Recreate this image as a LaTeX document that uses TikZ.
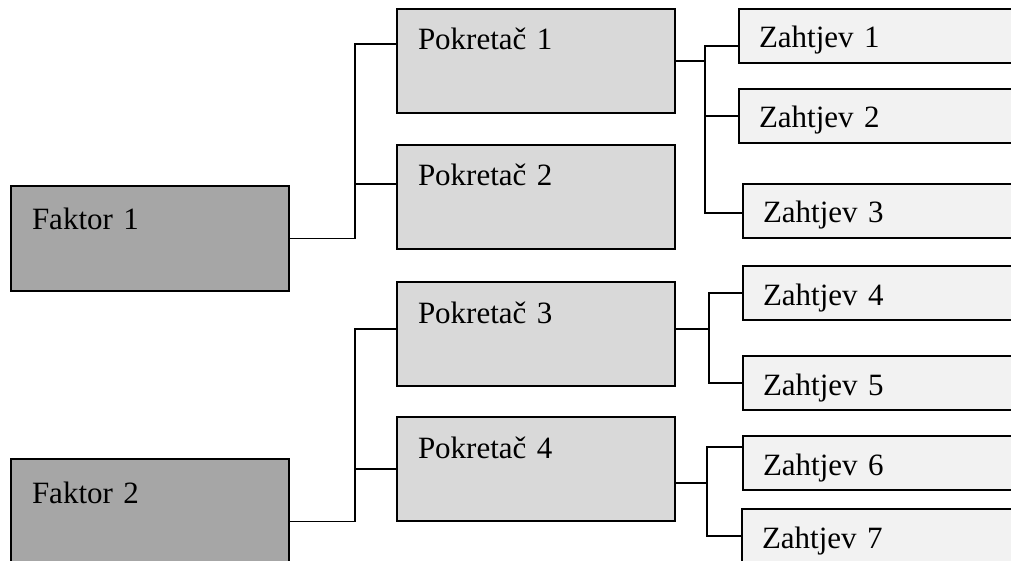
\documentclass[tikz,border=0pt]{standalone}
\usepackage{fontspec}
\setmainfont{Liberation Serif}
\definecolor{FaktorGray}{HTML}{A6A6A6}
\definecolor{PokretacGray}{HTML}{D9D9D9}
\definecolor{ZahtjevGray}{HTML}{F2F2F2}
\tikzset{
  faktor/.style={draw=black, fill=FaktorGray, line width=2pt, anchor=north west, outer sep=0pt, align=left, inner xsep=21pt, inner ysep=0pt, text width=236pt, text height=44pt, text depth=61pt, font=\fontsize{31}{37}\selectfont},
  pokretac/.style={draw=black, fill=PokretacGray, line width=2pt, anchor=north west, outer sep=0pt, align=left, inner xsep=21pt, inner ysep=0pt, text width=236pt, text height=41pt, text depth=63pt, font=\fontsize{31}{37}\selectfont},
  zahtjev/.style={draw=black, fill=ZahtjevGray, line width=2pt, anchor=north west, outer sep=0pt, align=left, inner xsep=20pt, inner ysep=0pt, text width=260pt, text height=39pt, text depth=15pt, font=\fontsize{31}{37}\selectfont},
  wire/.style={line width=1.5pt, black}
}

\begin{document}
\begin{tikzpicture}[x=1pt, y=-1pt]
    \useasboundingbox (0,0) rectangle (1011,561);
    \clip (0,0) rectangle (1011,561);

    % factors
    \node[faktor] (f1) at (11,186) {Faktor 1};
    \node[faktor] (f2) at (11,459) {Faktor 2};

    % drivers
    \node[pokretac] (p1) at (397,9) {Pokretač 1};
    \node[pokretac] (p2) at (397,145) {Pokretač 2};
    \node[pokretac] (p3) at (397,282) {Pokretač 3};
    \node[pokretac] (p4) at (397,417) {Pokretač 4};

    % requirements
    \node[zahtjev] (z1) at (739,9) {Zahtjev 1};
    \node[zahtjev] (z2) at (739,89) {Zahtjev 2};
    \node[zahtjev] (z3) at (743,184) {Zahtjev 3};
    \node[zahtjev] (z4) at (743,266) {Zahtjev 4};
    \node[zahtjev] (z5) at (743,356) {Zahtjev 5};
    \node[zahtjev] (z6) at (743,436) {Zahtjev 6};
    \node[zahtjev] (z7) at (742,509) {Zahtjev 7};

    % attachment points
    \coordinate (f2out) at ([yshift=-10pt]f2.east);
    \coordinate (p1in) at ([yshift=17pt]p1.west);
    \coordinate (p2in) at ([yshift=13pt]p2.west);
    \coordinate (p3in) at ([yshift=5pt]p3.west);
    \coordinate (p3out) at ([yshift=5pt]p3.east);
    \coordinate (p4out) at ([yshift=-14pt]p4.east);
    \coordinate (z1in) at ([yshift=-10pt]z1.west);
    \coordinate (z3in) at ([yshift=-2pt]z3.west);
    \coordinate (z6in) at ([yshift=16pt]z6.west);

    % bus lines
    \coordinate (busA) at (355,0);
    \coordinate (busB) at (705,0);
    \coordinate (busC) at (709,0);
    \coordinate (busD) at (707,0);

    \draw[wire] (f1.east) -| (busA |- p1in) -- (p1in);
    \draw[wire] (busA |- p2in) -- (p2in);
    \draw[wire] (f2out) -| (busA |- p3in) -- (p3in);
    \draw[wire] (busA |- p4.west) -- (p4.west);

    \draw[wire] (p1.east) -- (busB |- p1.east);
    \draw[wire] (z1in) -| (busB |- z3in) -- (z3in);
    \draw[wire] (busB |- z2.west) -- (z2.west);

    \draw[wire] (p3out) -- (busC |- p3out);
    \draw[wire] (z4.west) -| (busC |- z5.west) -- (z5.west);

    \draw[wire] (p4out) -- (busD |- p4out);
    \draw[wire] (z6in) -| (busD |- z7.west) -- (z7.west);
  \end{tikzpicture}
\end{document}
